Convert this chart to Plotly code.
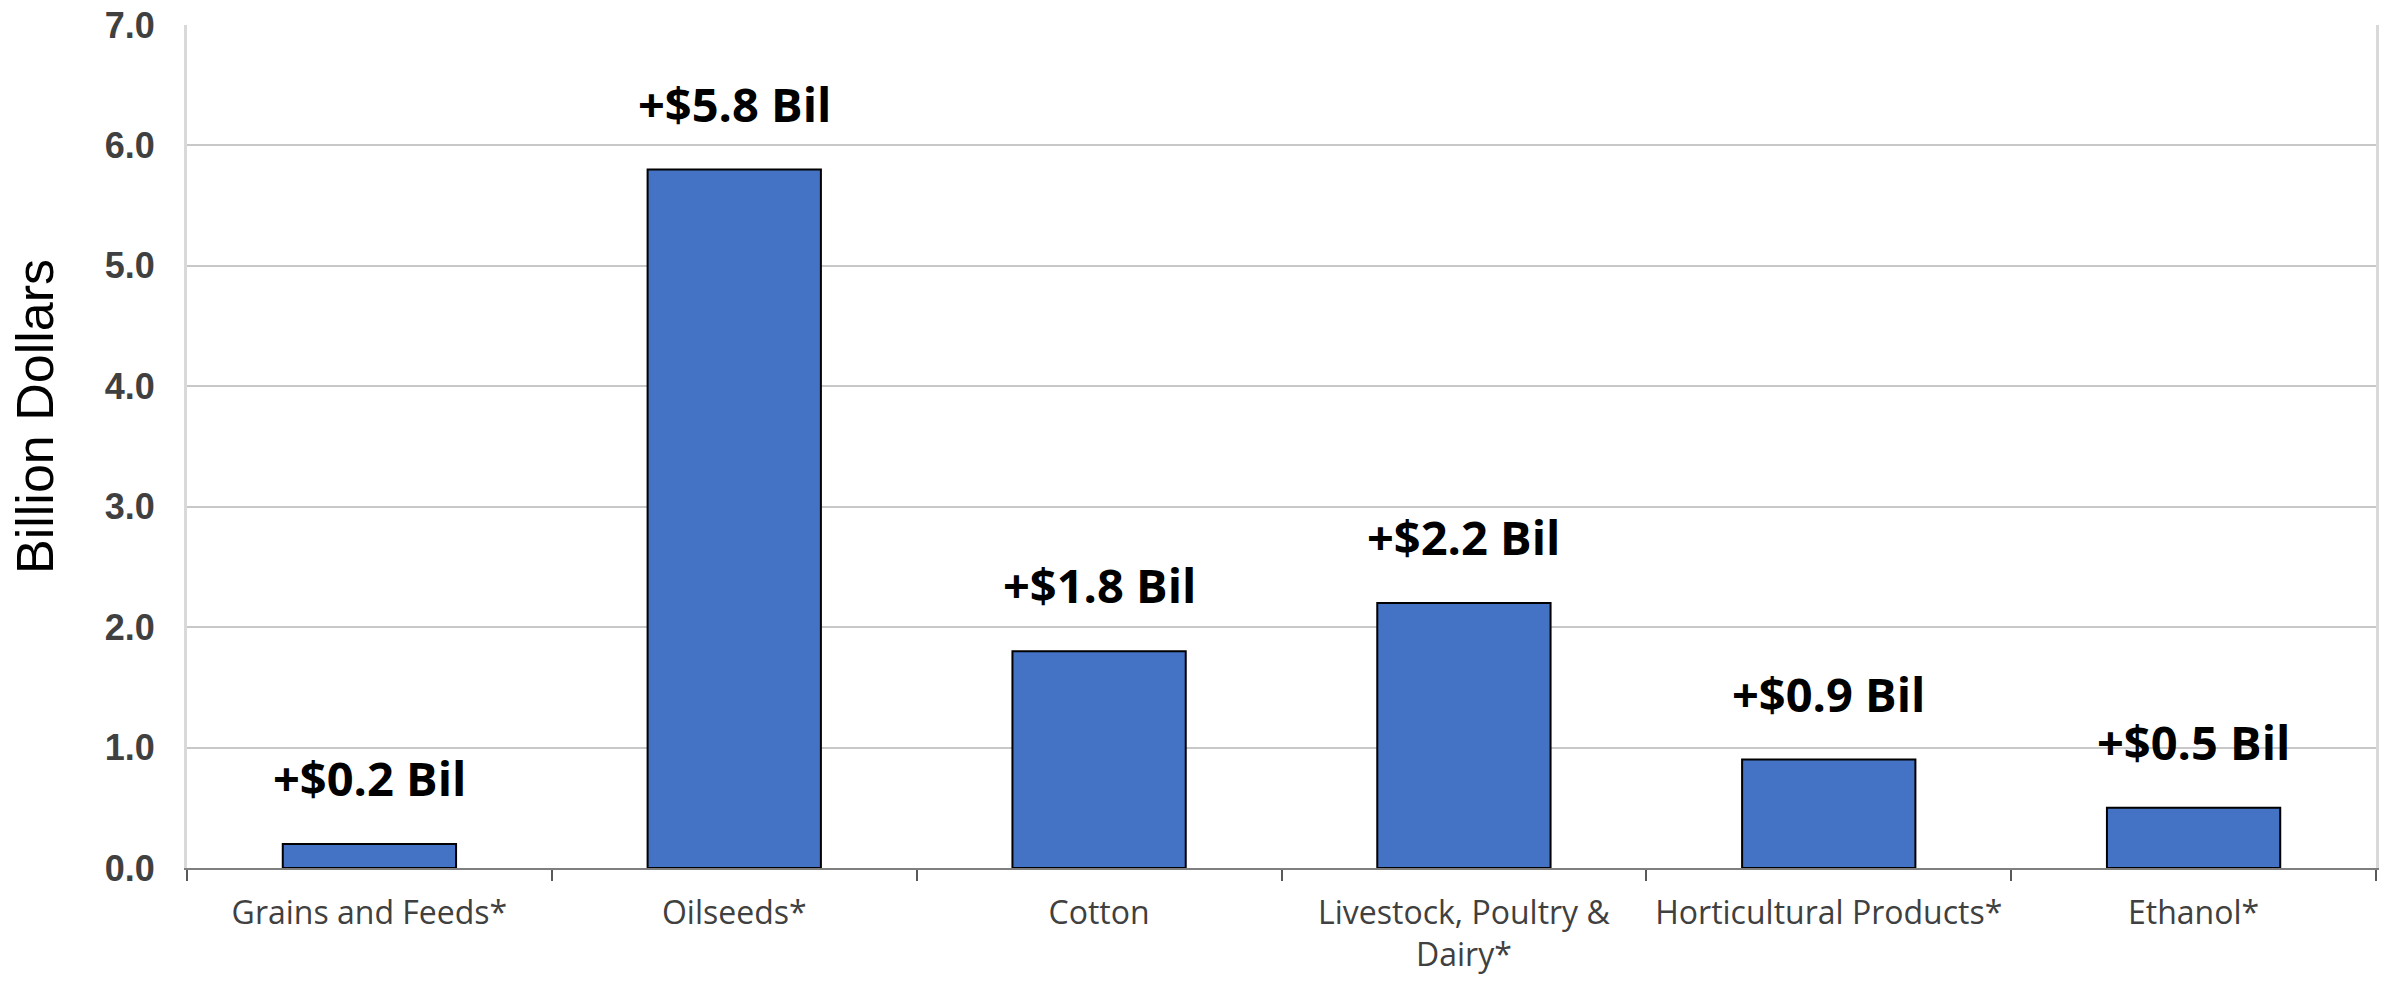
import plotly.graph_objects as go

categories = ["Grains and Feeds*", "Oilseeds*", "Cotton", "Livestock, Poultry &<br>Dairy*",
              "Horticultural Products*", "Ethanol*"]
values = [0.2, 5.8, 1.8, 2.2, 0.9, 0.5]
labels = ["+$0.2 Bil", "+$5.8 Bil", "+$1.8 Bil", "+$2.2 Bil", "+$0.9 Bil", "+$0.5 Bil"]
y_ticks = [0, 1, 2, 3, 4, 5, 6, 7]

fig = go.Figure()
fig.add_trace(go.Bar(
    x=categories, y=values,
    marker=dict(color="#4472C4", line=dict(color="#000000", width=2)),
    width=0.475,
))

for c, v, t in zip(categories, values, labels):
    fig.add_annotation(x=c, y=v, text="<b>" + t + "</b>", showarrow=False,
                       yanchor="bottom", yshift=32,
                       font=dict(family="Open Sans", size=47, color="#000000"))

fig.add_annotation(xref="paper", yref="paper", x=0, y=0.535, xshift=-152,
                   text="Billion Dollars", textangle=-90, showarrow=False,
                   xanchor="center", yanchor="middle",
                   font=dict(family="Liberation Sans, Arial", size=52, color="#000000"))

fig.update_layout(
    width=2384, height=981,
    margin=dict(l=187, r=5, t=21, b=113),
    plot_bgcolor="white", paper_bgcolor="white",
    showlegend=False,
    xaxis=dict(
        tickson="boundaries", ticks="outside", ticklen=11, tickwidth=1.5, tickcolor="#595959",
        showline=True, linecolor="#7f7f7f", linewidth=2,
        tickfont=dict(family="Open Sans", size=32, color="#404040"),
        ticklabelstandoff=16,
        showgrid=False,
    ),
    yaxis=dict(
        range=[0, 7], tickvals=y_ticks, tickformat=".1f",
        showgrid=True, gridcolor="#c8c8c8", gridwidth=2,
        showline=True, linecolor="#d9d9d9", linewidth=3, mirror=True,
        zeroline=False,
        tickfont=dict(family="Liberation Sans, Arial", size=36, color="#404040", weight="bold"),
        ticklabelstandoff=22,
    ),
)

fig.write_html("out.html")
